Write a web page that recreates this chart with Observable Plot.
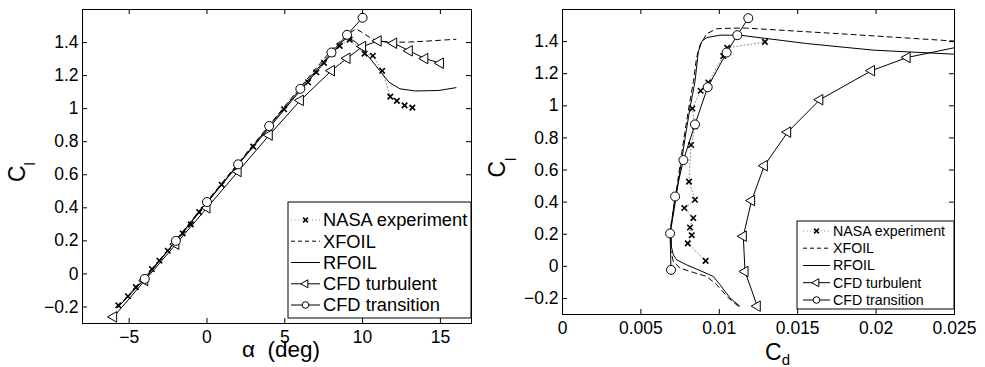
<!DOCTYPE html>
<html><head><meta charset="utf-8">
<script src="https://cdn.jsdelivr.net/npm/d3@7"></script>
<script src="https://cdn.jsdelivr.net/npm/@observablehq/plot@0.6"></script>
<style>
body{margin:0;background:#fff;}
#root{position:relative;width:985px;height:367px;overflow:hidden;}
#root svg{position:absolute;top:0;}
</style></head><body><div id="root"></div>
<script>
// ---------- tick values ----------
const xTicksL = [-5, 0, 5, 10, 15];
const xTicksR = [0, 0.005, 0.01, 0.015, 0.02, 0.025];
const yTicks = [-0.2, 0, 0.2, 0.4, 0.6, 0.8, 1, 1.2, 1.4];
const legendLabels = ["NASA experiment", "XFOIL", "RFOIL", "CFD turbulent", "CFD transition"];

// ---------- left panel: Cl vs alpha ----------
const nasaAlpha = [-5.7,-5.08,-4.57,-3.54,-3.06,-2.52,-1.56,-1.04,-0.5,0.94,2.97,4.96,6.5,7.03,7.52,8.06,8.53,9.17,10.13,10.66,11.26,11.78,12.2,12.7,13.2];
const nasaCl    = [-0.19,-0.135,-0.08,0.03,0.08,0.14,0.245,0.30,0.374,0.54,0.77,0.996,1.16,1.22,1.277,1.333,1.38,1.418,1.333,1.32,1.229,1.073,1.047,1.02,1.006];
const xfoilAlpha = [-5.75,-4,-2,0,2,4,6,8,9,9.6,9.9,10.4,10.9,12,13,14,15,16];
const xfoilCl    = [-0.20,-0.025,0.205,0.44,0.67,0.9,1.13,1.355,1.45,1.482,1.465,1.435,1.41,1.402,1.403,1.408,1.414,1.42];
const rfoilAlpha = [-5.75,-4,-2,0,2,4,6,8,8.8,9.1,9.6,10.05,10.6,11.1,11.7,12.4,13.4,14.9,16];
const rfoilCl    = [-0.205,-0.03,0.2,0.43,0.66,0.885,1.11,1.33,1.415,1.43,1.40,1.35,1.29,1.23,1.16,1.12,1.107,1.11,1.127];
const turbAlpha = [-6,-4,-2,0,2,4,6,8,9,10,11,12,13,14,15];
const turbCl    = [-0.26,-0.04,0.18,0.40,0.62,0.84,1.05,1.23,1.305,1.376,1.41,1.396,1.35,1.303,1.275];
const transAlpha = [-4,-2,0,2,4,6,8,9,10];
const transCl    = [-0.03,0.20,0.435,0.663,0.895,1.12,1.34,1.447,1.55];

// ---------- right panel: Cl vs Cd ----------
const nasaCdR = [0.00913,0.00799,0.00824,0.00813,0.00834,0.00777,0.00845,0.00807,0.0082,0.00845,0.00828,0.00881,0.0093,0.01025,0.01051,0.01291];
const nasaClR = [0.034,0.143,0.194,0.242,0.301,0.363,0.415,0.528,0.756,0.873,0.983,1.094,1.145,1.31,1.361,1.398];
const xfoilCdR = [0.01121,0.01057,0.00983,0.0092,0.00834,0.0075,0.00707,0.0069,0.00688,0.00714,0.00745,0.00775,0.00805,0.00835,0.00855,0.00877,0.0092,0.00983,0.0109,0.01174,0.01769,0.0249,0.0265];
const xfoilClR = [-0.248,-0.196,-0.114,-0.063,-0.038,-0.011,0.03,0.1,0.236,0.39,0.6,0.8,0.986,1.151,1.3,1.378,1.449,1.48,1.484,1.484,1.449,1.404,1.395];
const rfoilCdR = [0.0113,0.01068,0.01004,0.00962,0.00877,0.00792,0.00729,0.00707,0.00695,0.00692,0.00718,0.0075,0.00782,0.00813,0.00845,0.00866,0.00888,0.0092,0.01004,0.0113,0.01557,0.01981,0.0249,0.0265];
const rfoilClR = [-0.248,-0.196,-0.114,-0.063,-0.026,0.009,0.04,0.071,0.12,0.236,0.39,0.6,0.8,0.986,1.151,1.336,1.402,1.425,1.44,1.44,1.388,1.347,1.322,1.317];
const turbCdR = [0.01242,0.01164,0.01153,0.01206,0.01287,0.01436,0.01641,0.01971,0.02198,0.0257];
const turbClR = [-0.248,-0.032,0.188,0.41,0.627,0.836,1.038,1.219,1.301,1.376];
const transCdR = [0.00692,0.00686,0.00718,0.00771,0.00845,0.00926,0.01047,0.01115,0.01185];
const transClR = [-0.022,0.205,0.435,0.662,0.884,1.116,1.332,1.44,1.546];

// ---------- helpers ----------
const FONT = '"Liberation Sans", Arial, Helvetica, sans-serif';
const fmt = d => (d < 0 ? "\u2212" : "") + String(Math.abs(d));
const pts = (xs, ys) => xs.map((x, i) => ({x, y: ys[i]}));
const R_TIMES = 2.6, R_TRI = 3.9, R_CIRC = 4.5;
const DOT_COLOR = "#8a8a8a";

function seriesMarks(nasa, xfoil, rfoil, turb, trans) {
  const b = {x: "x", y: "y", clip: true};
  return [
    Plot.line(nasa, {...b, stroke: DOT_COLOR, strokeWidth: 1, strokeDasharray: "1,2.5"}),
    Plot.dot(nasa, {...b, symbol: "times", r: R_TIMES, stroke: "#000", strokeWidth: 1.6}),
    Plot.line(xfoil, {...b, stroke: "#000", strokeWidth: 1, strokeDasharray: "5,4"}),
    Plot.line(rfoil, {...b, stroke: "#000", strokeWidth: 1}),
    Plot.line(turb, {...b, stroke: "#000", strokeWidth: 1}),
    Plot.dot(turb, {...b, symbol: "triangle", rotate: -90, r: R_TRI, fill: "#fff", stroke: "#000", strokeWidth: 1}),
    Plot.line(trans, {...b, stroke: "#000", strokeWidth: 1}),
    Plot.dot(trans, {...b, symbol: "circle", r: R_CIRC, fill: "#fff", stroke: "#000", strokeWidth: 1})
  ];
}

function frameTicks(xT, yT, W, H, m) {
  const pw = W - m.left - m.right, ph = H - m.top - m.bottom, L = 5;
  return [
    Plot.tickX(xT, {x: d => d, insetTop: ph - L, stroke: "#000"}),
    Plot.tickX(xT, {x: d => d, insetBottom: ph - L, stroke: "#000"}),
    Plot.tickY(yT, {y: d => d, insetRight: pw - L, stroke: "#000"}),
    Plot.tickY(yT, {y: d => d, insetLeft: pw - L, stroke: "#000"})
  ];
}

function makePanel(o) {
  const m = o.m;
  return Plot.plot({
    width: o.W, height: o.H,
    marginLeft: m.left, marginRight: m.right, marginTop: m.top, marginBottom: m.bottom,
    style: {fontFamily: FONT, fontSize: "17.5px", color: "#000", background: "transparent", overflow: "visible"},
    x: {domain: o.xDomain},
    y: {domain: [-0.3, 1.6]},
    marks: [
      ...seriesMarks(o.nasa, o.xfoil, o.rfoil, o.turb, o.trans),
      Plot.frame({stroke: "#000", strokeWidth: 1}),
      ...frameTicks(o.xTicks, yTicks, o.W, o.H, m),
      Plot.axisX(o.xTicks, {anchor: "bottom", tickSize: 0, tickPadding: 7, tickFormat: fmt, fontSize: 17.5, label: null}),
      Plot.axisY(yTicks, {anchor: "left", tickSize: 0, tickPadding: 4, tickFormat: fmt, fontSize: 17.5, label: null})
    ]
  });
}

function drawLegend(svg, o) {
  const g = d3.select(svg).append("g").attr("font-family", FONT).attr("font-size", o.fs)
    .attr("fill", "#000").attr("text-anchor", "start");
  g.append("rect").attr("x", o.x0).attr("y", o.y0).attr("width", o.x1 - o.x0).attr("height", o.y1 - o.y0)
    .attr("fill", "#fff").attr("stroke", "#000").attr("stroke-width", 1);
  const styles = [
    {dash: "1,2.5", stroke: DOT_COLOR, marker: "times"},
    {dash: "4,3", stroke: "#000", marker: null},
    {dash: null, stroke: "#000", marker: null},
    {dash: null, stroke: "#000", marker: "tri"},
    {dash: null, stroke: "#000", marker: "circ"}
  ];
  legendLabels.forEach((lab, i) => {
    const y = o.ys[i], s = styles[i], mx = (o.lx0 + o.lx1) / 2;
    const ln = g.append("line").attr("x1", o.lx0).attr("x2", o.lx1).attr("y1", y).attr("y2", y)
      .attr("stroke", s.stroke).attr("stroke-width", 1);
    if (s.dash) ln.attr("stroke-dasharray", s.dash);
    if (s.marker === "times") {
      g.append("path").attr("transform", `translate(${mx},${y})`)
        .attr("d", d3.symbol(d3.symbolTimes, Math.PI * 2.3 * 2.3)()).attr("fill", "none").attr("stroke", "#000").attr("stroke-width", 1.5);
    } else if (s.marker === "tri") {
      g.append("path").attr("transform", `translate(${mx},${y}) rotate(-90)`)
        .attr("d", d3.symbol(d3.symbolTriangle, Math.PI * 3.0 * 3.0)()).attr("fill", "#fff").attr("stroke", "#000");
    } else if (s.marker === "circ") {
      g.append("circle").attr("cx", mx).attr("cy", y).attr("r", 3.3).attr("fill", "#fff").attr("stroke", "#000");
    }
    g.append("text").attr("x", o.tx).attr("y", y).attr("dy", "0.35em").text(lab);
  });
}

function addLabels(svg, items) {
  const s = d3.select(svg);
  items.forEach(it => {
    const t = s.append("text").attr("font-family", FONT).attr("font-size", it.fs || 23).attr("fill", "#000")
      .attr("text-anchor", "start")
      .attr("transform", it.rot ? `translate(${it.x},${it.y}) rotate(-90)` : `translate(${it.x},${it.y})`);
    t.append("tspan").text(it.main);
    if (it.sub) t.append("tspan").attr("font-size", 15).attr("dy", it.subDy).text(it.sub);
  });
}

const root = document.getElementById("root");

// left panel
const mL = {left: 82, right: 19, top: 9, bottom: 44};
const left = makePanel({
  W: 490, H: 367, m: mL, xDomain: [-8, 17], xTicks: xTicksL,
  nasa: pts(nasaAlpha, nasaCl), xfoil: pts(xfoilAlpha, xfoilCl), rfoil: pts(rfoilAlpha, rfoilCl),
  turb: pts(turbAlpha, turbCl), trans: pts(transAlpha, transCl)
});
left.style.left = "0px";
root.appendChild(left);
drawLegend(left, {x0: 288, x1: 471, y0: 202, y1: 318, ys: [220, 241.2, 262.5, 283.8, 305], lx0: 291, lx1: 320, tx: 323, fs: 18.3});
addLabels(left, [
  {x: 24.5, y: 182, rot: true, main: "C", sub: "l", subDy: 10.5},
  {x: 242, y: 357, rot: false, main: "\u03B1  (deg)", fs: 22.5}
]);

// right panel
const mR = {left: 72, right: 31, top: 9, bottom: 53};
const right = makePanel({
  W: 495, H: 367, m: mR, xDomain: [0, 0.025], xTicks: xTicksR,
  nasa: pts(nasaCdR, nasaClR), xfoil: pts(xfoilCdR, xfoilClR), rfoil: pts(rfoilCdR, rfoilClR),
  turb: pts(turbCdR, turbClR), trans: pts(transCdR, transClR)
});
right.style.left = "490px";
root.appendChild(right);
drawLegend(right, {x0: 307, x1: 464, y0: 221, y1: 309, ys: [231, 248.2, 265.5, 282.7, 300], lx0: 313, lx1: 340, tx: 343, fs: 14.2});
addLabels(right, [
  {x: 15, y: 177.5, rot: true, main: "C", sub: "l", subDy: 10.5},
  {x: 275, y: 359.5, rot: false, main: "C", sub: "d", subDy: 5.5}
]);
</script></body></html>
